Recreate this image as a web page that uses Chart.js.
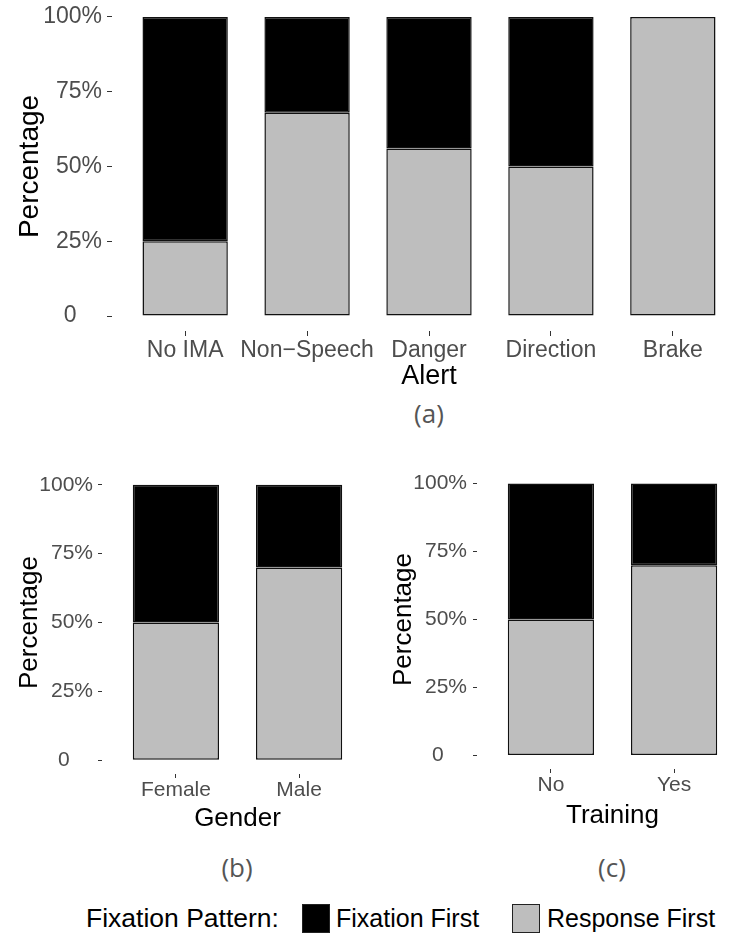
<!DOCTYPE html>
<html>
<head>
<meta charset="utf-8">
<script src="https://cdn.jsdelivr.net/npm/chart.js@4/dist/chart.umd.min.js"></script>
<style>
html, body { margin: 0; padding: 0; width: 732px; height: 944px; overflow: hidden; background: #fff; }
canvas { position: absolute; }
.tag { position: absolute; font-family: 'Open Sans', sans-serif; font-size: 26px; color: #555; transform: translate(-50%, -50%); white-space: nowrap; }
.leg { position: absolute; top: 918px; font-family: 'Liberation Sans', Arial, sans-serif; font-size: 25px; color: #000; transform: translateY(-50%); white-space: nowrap; }
.box { position: absolute; top: 904px; width: 28px; height: 29px; box-sizing: border-box; border: 1.5px solid #222; }
</style>
</head>
<body>
<canvas id="alertChart" width="760" height="393" style="left:0;top:0"></canvas>
<canvas id="genderChart" width="390" height="384" style="left:0;top:450px"></canvas>
<canvas id="trainingChart" width="390" height="381" style="left:370px;top:450px"></canvas>

<div class="tag" style="left:429px;top:413px">(a)</div>
<div class="tag" style="left:237px;top:867px">(b)</div>
<div class="tag" style="left:612px;top:867px">(c)</div>

<div class="leg" style="left:86px;font-size:26.5px">Fixation Pattern:</div>
<div class="box" style="left:302px;background:#000"></div>
<div class="leg" style="left:336px">Fixation First</div>
<div class="box" style="left:512px;background:#bebebe"></div>
<div class="leg" style="left:547px">Response First</div>

<script>
// values (percent of trials)
const alertCats = ["No IMA", "Non\u2212Speech", "Danger", "Direction", "Brake"];
const alertResponse = [25, 68, 56, 50, 100];
const alertFixation = [75, 32, 44, 50, 0];

const genderCats = ["Female", "Male"];
const genderResponse = [50, 70];
const genderFixation = [50, 30];

const trainingCats = ["No", "Yes"];
const trainingResponse = [50, 70];
const trainingFixation = [50, 30];

const yTicks = [0, 25, 50, 75, 100];
const yTickLabels = ["0    ", "25%", "50%", "75%", "100%"];

const FONT = "'Liberation Sans', Arial, Helvetica, sans-serif";

function makePanel(id, cats, resp, fix, xTitle, s) {
    const pts = (vals) => vals.map((v, i) => ({ x: i + 1, y: v }));
    return new Chart(document.getElementById(id), {
        type: "bar",
        data: {
            datasets: [
                { label: "Response First", data: pts(resp), backgroundColor: "#bebebe" },
                { label: "Fixation First", data: pts(fix), backgroundColor: "#000000" }
            ]
        },
        options: {
            responsive: false,
            animation: false,
            layout: { padding: { left: 0, top: s.top, right: s.right, bottom: 0 } },
            datasets: {
                bar: {
                    barPercentage: 0.7,
                    categoryPercentage: 1,
                    borderColor: "#111",
                    borderWidth: 1.5,
                    borderSkipped: false
                }
            },
            plugins: { legend: { display: false }, tooltip: { enabled: false } },
            scales: {
                x: {
                    type: "linear",
                    stacked: true,
                    offset: false,
                    bounds: "data",
                    min: 0.4,
                    max: cats.length + 0.6,
                    afterBuildTicks: (sc) => { sc.ticks = cats.map((c, i) => ({ value: i + 1 })); },
                    afterFit: (sc) => { sc.height = s.xh; sc.paddingLeft = 0; sc.paddingRight = 0; },
                    grid: { offset: false, drawOnChartArea: false, tickLength: s.tick, tickColor: "#333", tickWidth: 1 },
                    border: { display: false },
                    ticks: {
                        callback: (v) => cats[v - 1],
                        color: "#4d4d4d",
                        font: { family: FONT, size: s.tickFont },
                        padding: s.xPad,
                        maxRotation: 0,
                        autoSkip: false
                    },
                    title: {
                        display: true, text: xTitle, color: "#000",
                        font: { family: FONT, size: s.titleFont, lineHeight: 1.2 },
                        padding: { top: 0, bottom: 0 }
                    }
                },
                y: {
                    stacked: true,
                    bounds: "data",
                    min: -5,
                    max: 105,
                    afterBuildTicks: (sc) => { sc.ticks = yTicks.map((v) => ({ value: v })); },
                    afterFit: (sc) => { sc.width = s.yw; sc.paddingTop = 0; sc.paddingBottom = 0; },
                    grid: { drawOnChartArea: false, tickLength: s.tick, tickColor: "#333", tickWidth: 1 },
                    border: { display: false },
                    ticks: {
                        callback: (v, i) => yTickLabels[i],
                        color: "#4d4d4d",
                        font: { family: FONT, size: s.tickFont },
                        padding: s.yPad
                    },
                    title: {
                        display: true, text: "Percentage", color: "#000",
                        font: { family: FONT, size: s.yTitleFont, lineHeight: 1.2 },
                        padding: { top: s.yTitlePad, bottom: 0 }
                    }
                }
            }
        }
    });
}

makePanel("alertChart", alertCats, alertResponse, alertFixation, "Alert",
    { yw: 112, top: 2, right: 14, xh: 62, tick: 5, yPad: 5, xPad: 1,
      tickFont: 23, titleFont: 27, yTitleFont: 28, yTitlePad: 13 });

makePanel("genderChart", genderCats, genderResponse, genderFixation, "Gender",
    { yw: 102, top: 21, right: 17, xh: 60, tick: 4, yPad: 5, xPad: 0,
      tickFont: 21, titleFont: 26, yTitleFont: 26, yTitlePad: 14 });

makePanel("trainingChart", trainingCats, trainingResponse, trainingFixation, "Training",
    { yw: 107, top: 20, right: 12, xh: 62, tick: 4, yPad: 6, xPad: 0,
      tickFont: 21, titleFont: 26, yTitleFont: 26, yTitlePad: 18 });
</script>
</body>
</html>
